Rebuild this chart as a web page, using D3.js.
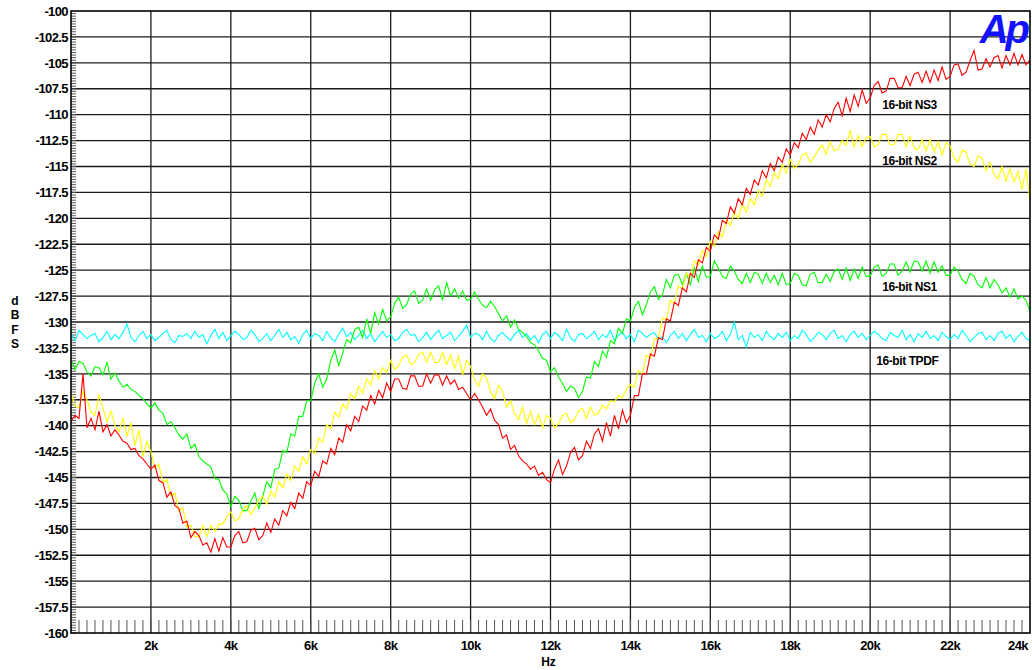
<!DOCTYPE html>
<meta charset="utf-8">
<script src="https://d3js.org/d3.v7.min.js"></script>
<style>
  body { margin: 0; background: #fff; }
  text { font-family: "Liberation Sans", Arial, sans-serif; font-weight: bold; }
</style>
<div id="my_dataviz"></div>
<script>

// readings: one value every 100 Hz, 0 .. 24 kHz
const freqStep = 100;

const tpdf = [
  -131.0,-131.8,-130.8,-131.2,-131.6,-131.3,-131.1,-131.9,-131.5,-130.9,
  -131.7,-131.2,-131.6,-131.0,-130.2,-131.5,-131.9,-131.3,-130.9,-131.6,
  -131.2,-131.8,-131.5,-131.1,-130.8,-131.7,-132.0,-131.3,-131.4,-131.1,
  -131.6,-130.9,-131.5,-131.2,-132.1,-131.3,-130.7,-131.6,-131.0,-131.8,
  -131.3,-130.9,-131.2,-131.7,-131.5,-130.8,-131.2,-131.9,-131.6,-131.1,
  -131.8,-131.3,-130.7,-131.5,-131.0,-131.7,-131.4,-132.1,-131.2,-130.8,
  -131.6,-131.1,-131.3,-131.8,-130.9,-131.5,-131.9,-131.2,-130.6,-131.4,
  -131.0,-131.7,-131.3,-130.8,-131.6,-131.1,-131.9,-131.4,-130.9,-131.5,
  -131.2,-131.8,-131.6,-131.0,-130.7,-131.3,-131.2,-131.9,-131.5,-131.0,
  -131.7,-131.2,-130.8,-131.6,-131.3,-131.0,-131.8,-131.4,-130.9,-130.3,
  -131.5,-131.1,-131.2,-131.7,-130.9,-131.6,-131.9,-131.3,-131.0,-131.4,
  -131.8,-131.2,-130.8,-131.5,-131.1,-131.7,-131.3,-132.0,-131.2,-130.9,
  -131.6,-131.0,-131.3,-131.8,-130.7,-131.5,-131.9,-131.2,-131.1,-131.6,
  -131.3,-130.9,-131.7,-131.2,-131.5,-130.8,-131.8,-131.3,-131.0,-131.6,
  -131.2,-131.9,-130.8,-131.1,-131.5,-131.2,-131.0,-131.7,-131.4,-132.0,
  -131.3,-130.9,-131.6,-131.1,-131.8,-131.2,-130.7,-131.5,-131.3,-131.9,
  -131.1,-131.6,-131.4,-130.9,-131.8,-131.2,-130.0,-131.7,-131.3,-132.4,
  -131.0,-131.5,-131.2,-131.8,-130.9,-131.4,-131.7,-131.1,-131.5,-131.0,
  -131.8,-131.3,-131.6,-130.8,-131.2,-131.9,-131.5,-131.0,-131.2,-131.7,
  -131.1,-130.8,-131.6,-131.3,-131.9,-131.2,-130.9,-131.5,-131.1,-131.7,
  -131.3,-130.9,-131.2,-131.6,-131.8,-131.0,-131.3,-131.5,-130.8,-131.7,
  -131.2,-131.9,-131.1,-131.5,-130.9,-131.6,-131.3,-131.8,-131.0,-131.4,
  -131.7,-131.2,-131.6,-130.8,-131.3,-131.9,-131.5,-131.1,-131.0,-131.7,
  -131.3,-131.8,-131.1,-130.9,-131.6,-131.2,-131.9,-131.4,-131.0,-131.6,
  -131.8
];

const ns1 = [
  -133.6,-134.6,-133.8,-134.0,-134.8,-135.2,-134.3,-134.4,-135.1,-133.9,
  -135.5,-134.9,-135.7,-136.3,-136.0,-136.5,-136.7,-137.1,-137.4,-137.9,
  -138.3,-137.8,-138.5,-138.8,-139.9,-139.6,-140.2,-140.9,-141.3,-140.8,
  -142.2,-141.8,-143.0,-143.4,-143.7,-144.0,-145.1,-145.2,-146.2,-146.6,
  -147.8,-146.8,-147.2,-148.2,-148.2,-147.3,-146.5,-148.0,-146.8,-145.4,
  -146.0,-144.2,-144.1,-142.4,-142.6,-140.8,-141.0,-139.1,-139.1,-137.6,
  -137.6,-135.9,-135.0,-136.3,-135.5,-133.7,-132.7,-134.2,-133.0,-131.7,
  -132.0,-130.7,-130.5,-131.5,-129.7,-131.1,-129.1,-130.2,-128.8,-129.9,
  -129.5,-128.2,-127.6,-128.7,-128.3,-127.3,-127.0,-128.2,-127.9,-126.8,
  -127.9,-126.9,-126.5,-127.9,-126.2,-127.5,-126.8,-127.7,-127.0,-127.9,
  -127.8,-127.1,-127.8,-128.4,-128.6,-128.0,-128.5,-129.2,-129.9,-129.4,
  -130.5,-129.8,-130.7,-131.0,-131.4,-132.0,-132.2,-132.8,-133.5,-133.7,
  -134.8,-134.4,-135.3,-135.9,-136.7,-136.2,-136.4,-137.3,-136.7,-135.3,
  -135.4,-133.8,-134.3,-132.8,-133.4,-131.8,-132.1,-130.6,-131.1,-129.7,
  -129.9,-128.6,-128.0,-129.3,-128.3,-127.1,-126.6,-127.8,-127.4,-125.9,
  -126.7,-125.5,-125.4,-126.4,-125.3,-126.4,-124.8,-126.1,-124.6,-125.7,
  -125.6,-124.1,-124.8,-125.6,-125.8,-124.6,-125.1,-125.9,-126.3,-125.3,
  -126.2,-125.2,-125.4,-126.3,-125.3,-126.2,-125.5,-126.4,-125.3,-126.4,
  -126.3,-125.3,-125.5,-126.4,-126.5,-125.4,-125.2,-126.2,-126.2,-125.4,
  -126.1,-125.1,-124.9,-125.9,-124.8,-126.0,-124.9,-125.8,-124.7,-125.6,
  -125.6,-124.7,-124.5,-125.6,-125.3,-124.4,-124.4,-125.5,-125.1,-124.2,
  -125.2,-124.1,-124.2,-125.1,-124.1,-125.3,-124.2,-125.2,-124.6,-125.5,
  -125.5,-124.7,-125.1,-125.9,-126.3,-125.3,-125.6,-126.4,-126.7,-125.7,
  -126.7,-125.9,-126.4,-127.2,-126.7,-127.6,-126.8,-127.8,-127.5,-127.9,
  -129.0
];

const ns2 = [
  -136.8,-138.1,-138.3,-136.7,-137.5,-138.7,-139.0,-137.0,-138.3,-139.6,
  -138.6,-140.0,-140.6,-139.3,-141.0,-139.7,-141.9,-140.4,-143.0,-141.5,
  -142.5,-144.1,-143.7,-145.5,-145.2,-146.8,-146.5,-148.2,-147.9,-149.8,
  -149.6,-150.7,-150.7,-149.6,-150.7,-149.6,-150.2,-149.5,-149.5,-148.8,
  -148.3,-149.2,-149.0,-148.1,-147.7,-148.6,-148.0,-147.2,-146.8,-147.6,
  -146.3,-146.9,-145.4,-146.0,-144.7,-145.3,-143.9,-144.4,-143.0,-143.7,
  -142.3,-142.7,-141.2,-141.6,-139.9,-140.3,-138.7,-139.2,-137.9,-138.4,
  -136.9,-137.4,-136.2,-136.9,-135.5,-136.1,-134.7,-135.5,-134.4,-134.9,
  -133.7,-134.6,-134.2,-133.4,-133.2,-134.1,-133.9,-133.1,-132.9,-133.9,
  -132.9,-133.9,-133.9,-132.9,-134.1,-133.2,-134.5,-133.3,-135.1,-133.7,
  -134.3,-135.6,-136.2,-135.0,-135.4,-136.7,-137.4,-136.1,-136.7,-138.2,
  -137.6,-138.8,-139.4,-138.2,-139.8,-138.6,-139.9,-138.9,-140.2,-139.0,
  -139.3,-140.2,-139.8,-139.0,-138.8,-139.7,-139.4,-138.6,-138.3,-139.3,
  -138.2,-139.0,-138.8,-138.0,-138.4,-137.6,-137.7,-137.1,-137.3,-136.5,
  -136.0,-136.3,-134.7,-135.0,-133.2,-133.5,-131.6,-131.6,-129.6,-129.8,
  -127.9,-128.2,-126.5,-126.8,-125.3,-125.6,-124.1,-124.5,-123.1,-123.7,
  -122.2,-122.7,-121.3,-121.8,-120.2,-120.7,-119.4,-120.0,-118.6,-119.4,
  -118.1,-118.7,-117.3,-117.9,-116.3,-116.9,-115.6,-116.2,-114.8,-115.6,
  -114.3,-115.2,-114.8,-113.9,-113.7,-114.6,-114.1,-113.4,-112.9,-113.8,
  -112.6,-113.5,-113.3,-112.5,-113.0,-111.5,-113.1,-112.0,-113.1,-112.2,
  -112.1,-113.1,-112.9,-111.9,-111.9,-112.9,-112.9,-111.9,-111.9,-113.1,
  -112.1,-113.2,-113.4,-112.4,-113.5,-112.4,-113.6,-112.6,-113.9,-112.7,
  -113.0,-114.2,-114.6,-113.4,-113.6,-114.8,-115.0,-114.0,-114.2,-115.4,
  -114.6,-115.8,-116.2,-115.0,-116.4,-115.2,-116.5,-115.5,-117.2,-115.2,
  -118.5
];

const ns3 = [
  -139.6,-139.0,-139.3,-135.0,-140.2,-139.3,-140.4,-138.6,-140.6,-139.9,
  -141.0,-140.4,-140.9,-141.5,-141.7,-142.3,-142.2,-142.9,-143.2,-143.7,
  -144.2,-143.8,-145.3,-145.5,-146.9,-146.4,-147.7,-148.0,-149.4,-149.2,
  -150.8,-150.2,-150.6,-151.5,-151.3,-152.2,-150.9,-152.1,-150.8,-151.7,
  -151.7,-150.6,-150.2,-151.3,-151.2,-150.1,-149.9,-151.0,-150.6,-149.4,
  -150.3,-149.0,-149.6,-148.2,-148.7,-147.4,-148.0,-146.5,-147.0,-145.4,
  -145.8,-144.4,-144.9,-143.4,-143.7,-142.2,-142.8,-141.2,-141.6,-139.9,
  -140.5,-139.1,-139.6,-138.1,-138.5,-137.1,-137.9,-136.6,-137.3,-135.9,
  -136.7,-135.5,-135.5,-136.4,-136.5,-135.2,-135.2,-136.2,-136.2,-135.0,
  -135.9,-135.1,-135.1,-136.1,-135.2,-136.0,-135.6,-136.5,-136.3,-136.9,
  -137.5,-136.9,-137.5,-138.2,-139.0,-138.4,-139.5,-139.9,-141.2,-140.9,
  -142.3,-141.9,-142.9,-143.4,-143.7,-144.2,-143.9,-144.8,-144.5,-145.2,
  -145.5,-144.2,-143.3,-144.7,-143.9,-142.6,-142.1,-143.3,-142.9,-141.5,
  -142.2,-140.8,-140.3,-141.5,-139.7,-141.0,-139.0,-140.3,-138.5,-139.7,
  -139.0,-137.1,-137.1,-135.0,-135.0,-133.1,-133.3,-131.5,-131.7,-129.7,
  -129.9,-128.1,-128.4,-126.7,-127.1,-125.3,-125.7,-124.0,-124.3,-122.8,
  -123.2,-121.6,-122.0,-120.2,-120.5,-118.9,-119.5,-118.1,-118.7,-117.1,
  -117.7,-116.3,-116.8,-115.4,-116.1,-114.7,-115.4,-114.1,-114.6,-113.3,
  -113.9,-112.7,-113.2,-111.8,-112.4,-111.2,-111.9,-110.5,-111.2,-110.0,
  -110.7,-109.4,-108.8,-110.1,-108.4,-109.7,-108.1,-109.2,-107.6,-108.9,
  -108.4,-107.2,-106.8,-107.9,-107.7,-106.5,-106.5,-107.4,-107.4,-106.3,
  -107.2,-106.1,-105.9,-106.9,-105.8,-106.9,-105.7,-106.7,-105.4,-106.6,
  -106.3,-105.2,-105.1,-106.2,-105.9,-104.8,-103.8,-105.7,-105.6,-104.6,
  -105.4,-104.5,-104.3,-105.5,-104.3,-105.2,-104.1,-105.2,-104.2,-105.2,
  -104.7
];

const yTickValues = [-160, -157.5, -155, -152.5, -150, -147.5, -145, -142.5, -140,
  -137.5, -135, -132.5, -130, -127.5, -125, -122.5, -120, -117.5, -115, -112.5,
  -110, -107.5, -105, -102.5, -100];
const xTickValues = [2000, 4000, 6000, 8000, 10000, 12000, 14000, 16000, 18000,
  20000, 22000, 24000];
const xTickLabels = ["2k", "4k", "6k", "8k", "10k", "12k", "14k", "16k", "18k",
  "20k", "22k", "24k"];

const traces = [
  {name: "16-bit TPDF", values: tpdf, color: "#00ffff"},
  {name: "16-bit NS1", values: ns1, color: "#00ff00"},
  {name: "16-bit NS2", values: ns2, color: "#ffff00"},
  {name: "16-bit NS3", values: ns3, color: "#ff0000"}
];
// where each trace name is written (Hz, dBFS)
const labelAt = [[20150, -133.7], [20300, -126.6], [20300, -114.4], [20300, -109.0]];

var margin = {top: 11, right: 2, bottom: 37, left: 71},
    width = 1032 - margin.left - margin.right,
    height = 670 - margin.top - margin.bottom;

var svg = d3.select("#my_dataviz")
  .append("svg")
    .attr("width", width + margin.left + margin.right)
    .attr("height", height + margin.top + margin.bottom)
  .append("g")
    .attr("transform", "translate(" + margin.left + "," + margin.top + ")");

var x = d3.scaleLinear().domain([0, 24000]).range([0, width]);
var y = d3.scaleLinear().domain([-160, -100]).range([height, 0]);

// grid
svg.append("g").selectAll("line")
  .data(yTickValues.slice(1, -1))
  .enter().append("line")
    .attr("x1", 0).attr("x2", width)
    .attr("y1", d => y(d)).attr("y2", d => y(d))
    .attr("stroke", "#1a1a1a").attr("stroke-width", 1.3);
svg.append("g").selectAll("line")
  .data(xTickValues.slice(0, -1))
  .enter().append("line")
    .attr("x1", d => x(d)).attr("x2", d => x(d))
    .attr("y1", 0).attr("y2", height)
    .attr("stroke", "#1a1a1a").attr("stroke-width", 1.3);

// minor ticks
svg.append("g").selectAll("line")
  .data(d3.range(-160, -100, 0.25))
  .enter().append("line")
    .attr("x1", 0).attr("x2", 5)
    .attr("y1", d => y(d)).attr("y2", d => y(d))
    .attr("stroke", "#555").attr("stroke-width", 1);
svg.append("g").selectAll("line")
  .data(d3.range(200, 24000, 200))
  .enter().append("line")
    .attr("x1", d => x(d)).attr("x2", d => x(d))
    .attr("y1", height).attr("y2", height - 13)
    .attr("stroke", "#555").attr("stroke-width", 1);

// traces
svg.append("clipPath").attr("id", "clip")
  .append("rect").attr("width", width).attr("height", height);

var line = d3.line()
  .x((d, i) => x(i * freqStep))
  .y(d => y(d));

svg.append("g").attr("clip-path", "url(#clip)")
  .selectAll("path")
  .data(traces)
  .enter().append("path")
    .attr("d", d => line(d.values))
    .attr("fill", "none")
    .attr("stroke", d => d.color)
    .attr("stroke-width", 1.1);

// frame
svg.append("rect")
  .attr("width", width).attr("height", height)
  .attr("fill", "none").attr("stroke", "#000").attr("stroke-width", 1.6);

// axis labels
svg.append("g").selectAll("text")
  .data(yTickValues)
  .enter().append("text")
    .attr("x", -3).attr("y", d => y(d)).attr("dy", "0.36em")
    .attr("text-anchor", "end")
    .style("font-size", "13px").style("letter-spacing", "-0.6px")
    .text(d => d);

svg.append("g").selectAll("text")
  .data(xTickValues)
  .enter().append("text")
    .attr("x", (d, i) => i == xTickValues.length - 1 ? width - 2 : x(d))
    .attr("y", height + 17)
    .attr("text-anchor", (d, i) => i == xTickValues.length - 1 ? "end" : "middle")
    .style("font-size", "13px").style("letter-spacing", "-0.6px")
    .text((d, i) => xTickLabels[i]);

svg.append("text")
  .attr("x", x(11950)).attr("y", height + 33)
  .attr("text-anchor", "middle")
  .style("font-size", "12px")
  .text("Hz");

svg.append("g").selectAll("text")
  .data(["d", "B", "F", "S"])
  .enter().append("text")
    .attr("x", -56).attr("y", (d, i) => 294 + i * 14.3)
    .attr("text-anchor", "middle")
    .style("font-size", "12px")
    .text(d => d);

// trace names
svg.append("g").selectAll("text")
  .data(traces)
  .enter().append("text")
    .attr("x", (d, i) => x(labelAt[i][0]))
    .attr("y", (d, i) => y(labelAt[i][1]))
    .attr("dy", "0.36em")
    .style("font-size", "12px").style("letter-spacing", "-0.4px")
    .text(d => d.name);

// Ap logo
svg.append("text")
  .attr("x", width - 3).attr("y", 32)
  .attr("text-anchor", "end")
  .style("font-size", "40px").style("font-style", "italic")
  .style("letter-spacing", "-3px")
  .attr("fill", "#1212ff")
  .text("Ap");

</script>
